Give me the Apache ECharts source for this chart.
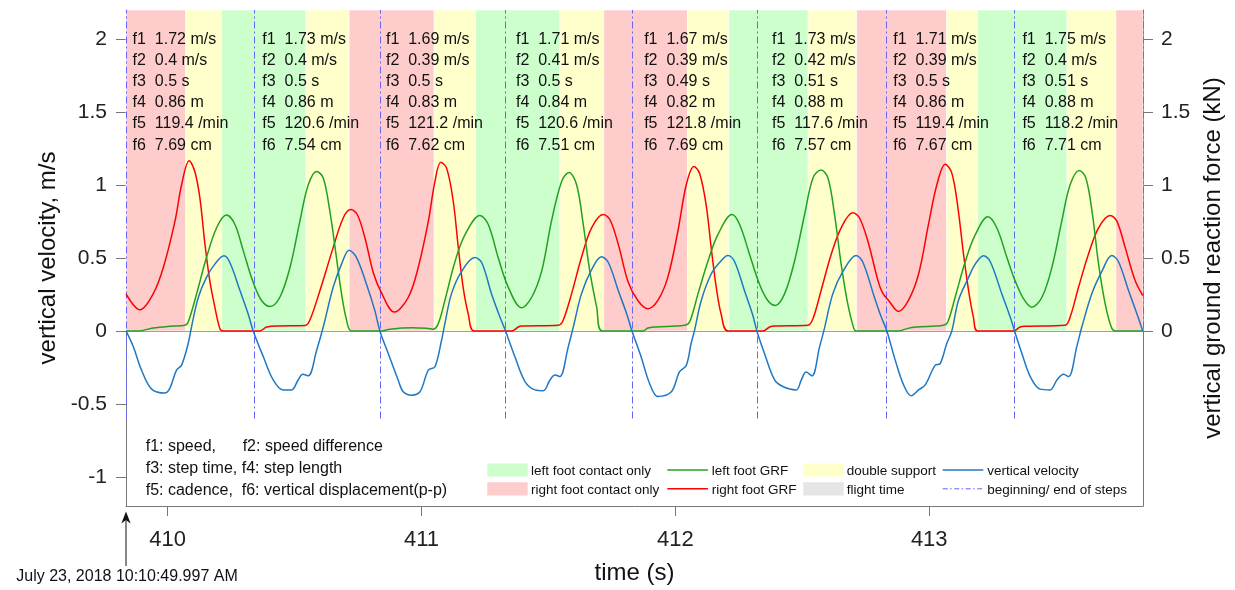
<!DOCTYPE html>
<html><head><meta charset="utf-8">
<script src="https://cdn.jsdelivr.net/npm/echarts@6/dist/echarts.min.js"></script>
<style>html,body{margin:0;padding:0;background:#fff}#c{width:1235px;height:590px}</style>
</head><body><div id="c"></div>
<script>
// ---------- data ----------
const timeMin = 409.836, timeMax = 413.842;
const xTicks = [410, 411, 412, 413];
const yTicksLeft = [-1, -0.5, 0, 0.5, 1, 1.5, 2];
const yTicksRight = [0, 0.5, 1, 1.5, 2];
const stepBounds = [409.836, 410.340, 410.836, 411.330, 411.830, 412.322, 412.832, 413.334, 413.842];
const phaseEdges = [409.836, 410.071, 410.213, 410.545, 410.715, 411.050, 411.213, 411.545, 411.718,
                    412.048, 412.211, 412.523, 412.714, 413.068, 413.190, 413.543, 413.735, 413.842];
const phaseTypes = ['R','D','L','D','R','D','L','D','R','D','L','D','R','D','L','D','R'];
const speed     = [1.72, 1.73, 1.69, 1.71, 1.67, 1.73, 1.71, 1.75];
const speedDiff = [0.4, 0.4, 0.39, 0.41, 0.39, 0.42, 0.39, 0.4];
const stepTime  = [0.5, 0.5, 0.5, 0.5, 0.49, 0.51, 0.5, 0.51];
const stepLen   = [0.86, 0.86, 0.83, 0.84, 0.82, 0.88, 0.86, 0.88];
const cadence   = [119.4, 120.6, 121.2, 120.6, 121.8, 117.6, 119.4, 118.2];
const vertDisp  = [7.69, 7.54, 7.62, 7.51, 7.69, 7.57, 7.67, 7.71];
const noteT     = [409.862, 410.373, 410.860, 411.372, 411.877, 412.381, 412.858, 413.367];

const rightGRF = [
 [409.836,0.254],[409.891,0.145],[409.943,0.254],[409.983,0.435],[410.029,0.753],[410.055,1.002],
 [410.085,1.166],[410.107,1.093],[410.127,0.912],[410.147,0.594],[410.166,0.345],[410.186,0.163],
 [410.206,0.015],[410.219,0],[410.363,0],[410.390,0.027],[410.442,0.034],[410.541,0.037],[410.560,0.073],
 [410.600,0.277],[410.652,0.571],[410.692,0.776],[410.721,0.832],[410.747,0.798],[410.777,0.639],
 [410.810,0.40],[410.840,0.27],[410.893,0.129],[410.948,0.231],[410.987,0.435],[411.027,0.753],
 [411.053,1.025],[411.076,1.156],[411.099,1.116],[411.125,0.889],[411.145,0.571],[411.164,0.299],
 [411.184,0.118],[411.208,0],[411.355,0],[411.381,0.027],[411.394,0.034],[411.539,0.039],[411.558,0.073],
 [411.591,0.254],[411.630,0.503],[411.670,0.707],[411.716,0.798],[411.742,0.764],[411.775,0.594],
 [411.814,0.335],[411.852,0.209],[411.892,0.152],[411.931,0.209],[411.970,0.367],[412.010,0.685],
 [412.043,1.002],[412.073,1.127],[412.095,1.082],[412.121,0.866],[412.141,0.571],[412.161,0.299],
 [412.180,0.118],[412.207,0],[412.345,0],[412.371,0.027],[412.391,0.034],[412.522,0.039],[412.542,0.084],
 [412.574,0.277],[412.614,0.526],[412.653,0.707],[412.699,0.810],[412.725,0.776],[412.758,0.617],
 [412.798,0.345],[412.815,0.265],[412.840,0.209],[412.879,0.134],[412.918,0.209],[412.958,0.390],
 [412.997,0.730],[413.030,1.002],[413.063,1.143],[413.089,1.082],[413.113,0.844],[413.135,0.526],
 [413.157,0.254],[413.174,0.095],[413.191,0],[413.332,0],[413.358,0.027],[413.378,0.032],[413.535,0.039],
 [413.555,0.095],[413.588,0.299],[413.627,0.526],[413.667,0.707],[413.713,0.791],[413.739,0.753],
 [413.772,0.571],[413.811,0.345],[413.841,0.243]
];
const leftGRF = [
 [409.836,0],[409.884,0],[409.943,0.02],[410.009,0.032],[410.068,0.039],[410.081,0.061],[410.114,0.254],
 [410.153,0.503],[410.193,0.707],[410.232,0.794],[410.265,0.730],[410.298,0.549],[410.337,0.333],
 [410.370,0.209],[410.403,0.168],[410.442,0.231],[410.482,0.435],[410.521,0.753],[410.554,1.002],
 [410.587,1.093],[410.613,1.048],[410.639,0.821],[410.665,0.503],[410.685,0.254],[410.705,0.073],
 [410.724,0],[410.843,0],[410.869,0.01],[410.922,0.02],[410.961,0.022],[411.020,0.018],[411.046,0.012],
 [411.066,0.05],[411.092,0.209],[411.132,0.476],[411.171,0.658],[411.230,0.791],[411.263,0.730],
 [411.302,0.503],[411.342,0.299],[411.394,0.159],[411.434,0.231],[411.473,0.408],[411.512,0.753],
 [411.552,1.025],[411.581,1.086],[411.611,1.002],[411.637,0.730],[411.663,0.408],[411.690,0.163],
 [411.712,0],[411.872,0],[411.892,0.02],[411.918,0.027],[412.036,0.039],[412.056,0.061],[412.089,0.254],
 [412.128,0.476],[412.167,0.658],[412.223,0.798],[412.253,0.730],[412.292,0.526],[412.331,0.322],
 [412.364,0.209],[412.394,0.175],[412.430,0.254],[412.469,0.476],[412.509,0.798],[412.542,1.048],
 [412.574,1.104],[412.601,1.048],[412.627,0.798],[412.653,0.458],[412.679,0.186],[412.703,0.016],
 [412.712,0],[412.879,0],[412.912,0.016],[412.945,0.027],[413.056,0.039],[413.073,0.061],[413.102,0.231],
 [413.142,0.476],[413.181,0.658],[413.231,0.782],[413.266,0.707],[413.306,0.503],[413.338,0.345],
 [413.371,0.222],[413.404,0.163],[413.444,0.231],[413.483,0.435],[413.522,0.753],[413.555,1.002],
 [413.591,1.100],[413.617,1.048],[413.643,0.798],[413.667,0.458],[413.693,0.186],[413.717,0.027],
 [413.732,0],[413.841,0]
];
const velocity = [
 [409.836,0],[409.865,-0.109],[409.897,-0.268],[409.937,-0.399],[409.989,-0.426],[410.009,-0.392],
 [410.035,-0.268],[410.055,-0.234],[410.081,-0.086],[410.094,0.027],[410.121,0.231],[410.153,0.367],
 [410.186,0.458],[410.222,0.515],[410.245,0.469],[410.285,0.277],[410.317,0.118],[410.337,0],
 [410.377,-0.177],[410.416,-0.336],[410.455,-0.404],[410.488,-0.404],[410.514,-0.336],[410.532,-0.297],
 [410.554,-0.308],[410.587,-0.132],[410.613,0.027],[410.652,0.299],[410.685,0.458],[410.715,0.553],
 [410.744,0.503],[410.783,0.322],[410.816,0.141],[410.836,0],[410.869,-0.154],[410.908,-0.336],
 [410.928,-0.417],[410.961,-0.440],[410.994,-0.417],[411.027,-0.268],[411.053,-0.245],[411.079,-0.064],
 [411.092,0.05],[411.118,0.254],[411.158,0.408],[411.210,0.503],[411.237,0.469],[411.276,0.254],
 [411.309,0.095],[411.331,0],[411.368,-0.177],[411.407,-0.345],[411.447,-0.404],[411.480,-0.41],
 [411.506,-0.336],[411.526,-0.302],[411.545,-0.313],[411.578,-0.109],[411.598,0.027],[411.630,0.254],
 [411.670,0.42],[411.709,0.508],[411.736,0.469],[411.775,0.277],[411.808,0.118],[411.829,0],
 [411.865,-0.177],[411.898,-0.358],[411.931,-0.449],[411.984,-0.417],[412.016,-0.281],[412.043,-0.236],
 [412.062,-0.086],[412.075,0],[412.102,0.209],[412.141,0.390],[412.174,0.469],[412.207,0.517],
 [412.233,0.476],[412.272,0.277],[412.305,0.107],[412.321,0],[412.351,-0.154],[412.391,-0.336],
 [412.423,-0.381],[412.476,-0.404],[412.496,-0.336],[412.515,-0.281],[412.538,-0.308],[412.568,-0.109],
 [412.587,0.016],[412.620,0.254],[412.660,0.408],[412.712,0.517],[412.739,0.469],[412.784,0.231],
 [412.811,0.095],[412.833,0],[412.866,-0.2],[412.899,-0.370],[412.929,-0.444],[412.958,-0.404],
 [412.984,-0.370],[413.023,-0.236],[413.043,-0.224],[413.069,-0.086],[413.089,0],[413.115,0.209],
 [413.155,0.367],[413.181,0.458],[413.214,0.515],[413.240,0.476],[413.286,0.254],[413.319,0.095],
 [413.336,0],[413.365,-0.154],[413.398,-0.313],[413.437,-0.399],[413.476,-0.404],[413.503,-0.336],
 [413.529,-0.297],[413.549,-0.313],[413.581,-0.109],[413.601,0.027],[413.640,0.254],[413.680,0.408],
 [413.719,0.517],[413.745,0.476],[413.785,0.277],[413.818,0.118],[413.841,0]
];

// ---------- styles ----------
const FONT = '"Liberation Sans", Arial, Helvetica, sans-serif';
const phaseColor = { L: '#ccffcc', R: '#ffcccc', D: '#ffffcc', F: '#e5e5e5' };
const C_LEFT = '#22a022', C_RIGHT = '#ff0000', C_VEL = '#1f78c4', C_STEP = '#6464ff', AX = '#777';
const Y_MIN = -1.2, Y_MAX = 2.2;

const bandAreas = [];
for (let i = 0; i < phaseTypes.length; i++) {
  bandAreas.push([
    { xAxis: phaseEdges[i], yAxis: 0, itemStyle: { color: phaseColor[phaseTypes[i]], borderColor: '#fff', borderWidth: 0.6 } },
    { xAxis: phaseEdges[i + 1], yAxis: Y_MAX }
  ]);
}
const stepLines = stepBounds.map(t => [{ coord: [t, -0.6] }, { coord: [t, Y_MAX] }]);

const chart = echarts.init(document.getElementById('c'), null, { renderer: 'canvas' });
const yAxisBase = {
  type: 'value', min: Y_MIN, max: Y_MAX,
  splitLine: { show: false },
  axisLine: { show: true, lineStyle: { color: AX, width: 1 } },
  axisTick: { show: true, length: 10, lineStyle: { color: AX } },
  nameLocation: 'middle', nameRotate: 90,
  nameTextStyle: { fontSize: 24, color: '#111', fontFamily: FONT }
};
chart.setOption({
  animation: false,
  grid: { left: 126, right: 92, top: 10, bottom: 80 },
  xAxis: {
    type: 'value', min: timeMin, max: timeMax,
    splitLine: { show: false },
    axisLine: { onZero: false, lineStyle: { color: AX, width: 1 } },
    axisTick: { customValues: xTicks, length: 10, lineStyle: { color: AX } },
    axisLabel: { customValues: xTicks, fontSize: 22, color: '#222', fontFamily: FONT, margin: 23, formatter: v => String(v) },
    name: 'time (s)', nameLocation: 'middle', nameGap: 55,
    nameTextStyle: { fontSize: 24, color: '#111', fontFamily: FONT }
  },
  yAxis: [
    Object.assign({}, yAxisBase, {
      position: 'left', name: 'vertical velocity, m/s', nameGap: 57,
      axisTick: { show: true, length: 10, customValues: yTicksLeft, lineStyle: { color: AX } },
      axisLabel: { customValues: yTicksLeft, fontSize: 21, color: '#222', fontFamily: FONT, margin: 19 }
    }),
    Object.assign({}, yAxisBase, {
      position: 'right', name: 'vertical ground reaction force (kN)', nameGap: 58,
      axisTick: { show: true, length: 10, customValues: yTicksRight, lineStyle: { color: AX } },
      axisLabel: { customValues: yTicksRight, fontSize: 21, color: '#222', fontFamily: FONT, margin: 18 }
    })
  ],
  series: [
    { name: 'phases', type: 'line', data: [], silent: true,
      markArea: { silent: true, z: 1, data: bandAreas } },
    { name: 'zero', type: 'line', data: [], silent: true,
      markLine: { silent: true, z: 2, symbol: 'none', label: { show: false },
        lineStyle: { color: '#a0a0a0', width: 1, type: 'solid' }, data: [{ yAxis: 0 }] } },
    { name: 'steps', type: 'line', data: [], silent: true,
      markLine: { silent: true, z: 3, symbol: 'none', label: { show: false },
        lineStyle: { color: C_STEP, width: 1, type: [7, 3, 2, 3] }, data: stepLines } },
    { name: 'right foot GRF', type: 'line', data: rightGRF, z: 4, showSymbol: false, smooth: 0.35,
      lineStyle: { color: C_RIGHT, width: 1.5 } },
    { name: 'left foot GRF', type: 'line', data: leftGRF, z: 5, showSymbol: false, smooth: 0.35,
      lineStyle: { color: C_LEFT, width: 1.5 } },
    { name: 'vertical velocity', type: 'line', data: velocity, z: 6, showSymbol: false, smooth: 0.35,
      lineStyle: { color: C_VEL, width: 1.5 } }
  ]
});

// ---------- annotations ----------
const px = (t, v) => chart.convertToPixel({ xAxisIndex: 0, yAxisIndex: 0 }, [t, v]);
const g = [];
noteT.forEach((t, i) => {
  const p = px(t, 2);
  g.push({ type: 'text', x: p[0], y: p[1] - 10.6, z: 20, silent: true,
    style: { text: [
      'f1  ' + speed[i] + ' m/s', 'f2  ' + speedDiff[i] + ' m/s', 'f3  ' + stepTime[i] + ' s',
      'f4  ' + stepLen[i] + ' m', 'f5  ' + cadence[i] + ' /min', 'f6  ' + vertDisp[i] + ' cm'
    ].join('\n'), font: '16px ' + FONT, fill: '#111', lineHeight: 21.2, align: 'left', verticalAlign: 'top' } });
});
// notes at lower left
const notes = ['f1: speed,      f2: speed difference', 'f3: step time, f4: step length', 'f5: cadence,  f6: vertical displacement(p-p)'];
const noteY = [446.7, 469, 490.7];
notes.forEach((s, i) => g.push({ type: 'text', x: 145.7, y: noteY[i], z: 20, silent: true,
  style: { text: s, font: '16px ' + FONT, fill: '#111', align: 'left', verticalAlign: 'middle' } }));
// legend
const LF = '13.5px ' + FONT;
const legendItems = [
  { kind: 'rect', color: phaseColor.L, x: 487.3, row: 0, text: 'left foot contact only', tx: 531 },
  { kind: 'rect', color: phaseColor.R, x: 487.3, row: 1, text: 'right foot contact only', tx: 531 },
  { kind: 'line', color: C_LEFT, x: 667.3, row: 0, text: 'left foot GRF', tx: 711.7 },
  { kind: 'line', color: C_RIGHT, x: 667.3, row: 1, text: 'right foot GRF', tx: 711.7 },
  { kind: 'rect', color: phaseColor.D, x: 803.3, row: 0, text: 'double support', tx: 846.7 },
  { kind: 'rect', color: phaseColor.F, x: 803.3, row: 1, text: 'flight time', tx: 846.7 },
  { kind: 'line', color: C_VEL, x: 942.7, row: 0, text: 'vertical velocity', tx: 987.3 },
  { kind: 'dash', color: C_STEP, x: 942.7, row: 1, text: 'beginning/ end of steps', tx: 987.3 }
];
const rowC = [470, 488.8];
legendItems.forEach(it => {
  const cy = rowC[it.row];
  if (it.kind === 'rect') {
    g.push({ type: 'rect', z: 20, silent: true, shape: { x: it.x, y: cy - 6.6, width: 40.4, height: 13.2 }, style: { fill: it.color } });
  } else {
    g.push({ type: 'line', z: 20, silent: true, shape: { x1: it.x, y1: cy, x2: it.x + 40.6, y2: cy },
      style: { stroke: it.color, lineWidth: it.kind === 'dash' ? 1 : 1.5, lineDash: it.kind === 'dash' ? [5, 2.5, 1.5, 2.5] : null } });
  }
  g.push({ type: 'text', z: 20, silent: true, x: it.tx, y: cy + 1.2,
    style: { text: it.text, font: LF, fill: '#111', align: 'left', verticalAlign: 'middle' } });
});
// start-time arrow
const ax = px(timeMin, 0)[0];
g.push({ type: 'line', z: 20, silent: true, shape: { x1: ax, y1: 519, x2: ax, y2: 566 }, style: { stroke: '#111', lineWidth: 1 } });
g.push({ type: 'polygon', z: 20, silent: true, shape: { points: [[ax, 511.5], [ax - 4.6, 523.5], [ax, 520], [ax + 4.6, 523.5]] }, style: { fill: '#111' } });
g.push({ type: 'text', z: 20, silent: true, x: ax + 1, y: 577,
  style: { text: 'July 23, 2018 10:10:49.997 AM', font: '16px ' + FONT, fill: '#111', align: 'center', verticalAlign: 'middle' } });
chart.setOption({ graphic: g });
</script>
</body></html>
